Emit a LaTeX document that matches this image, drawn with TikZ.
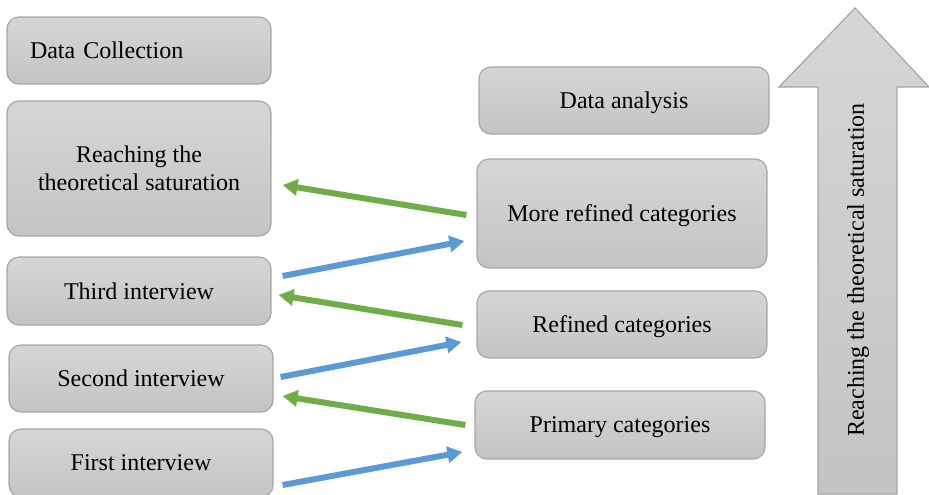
\documentclass[tikz,border=0pt]{standalone}
\usepackage{fontspec}
\setmainfont{Liberation Serif}
\usetikzlibrary{arrows.meta}
\definecolor{boxtop}{RGB}{214,214,214}
\definecolor{boxbot}{RGB}{196,196,196}
\definecolor{boxline}{RGB}{166,166,166}
\definecolor{backarrow}{RGB}{112,173,71}
\definecolor{fwdarrow}{RGB}{91,155,213}
\tikzset{
  stage/.style={draw=boxline,line width=0.6pt,rounded corners=6pt,top color=boxtop,bottom color=boxbot,
    minimum width=132pt,align=center,font=\fontsize{12}{14}\selectfont,inner sep=0pt,text depth=0pt},
  back/.style={draw=backarrow,line width=3pt,-{Triangle[length=7.5pt,width=8pt]}},
  fwd/.style={draw=fwdarrow,line width=3pt,-{Triangle[length=7.5pt,width=8pt]}}
}
\begin{document}
\begin{tikzpicture}[x=0.5pt,y=-0.5pt]
\useasboundingbox(0,0) rectangle (929,494);

% data collection side
\node[stage,minimum height=33.5pt,text width=109pt,align=left,inner xsep=11.5pt] (collect) at (139,50.5) {Data Collection};
\node[stage,minimum height=67.5pt] (satur) at (139,168.5) {Reaching the\\theoretical saturation};
\node[stage,minimum height=34pt] (third) at (139,291) {Third interview};
\node[stage,minimum height=33.5pt] (second) at (141,378.5) {Second interview};
\node[stage,minimum height=34pt] (first) at (141,463) {First interview};

% data analysis side
\node[stage,minimum width=145pt,minimum height=33.5pt] (analysis) at (624,100.5) {Data analysis};
\node[stage,minimum width=145pt,minimum height=54.5pt] (morecat) at (622,213.5) {More refined categories};
\node[stage,minimum width=145pt,minimum height=33.5pt] (refcat) at (622,324.5) {Refined categories};
\node[stage,minimum width=145pt,minimum height=34pt] (primcat) at (620,425) {Primary categories};

% big arrow
\draw[draw=boxline,line width=0.6pt,top color=boxtop,bottom color=boxbot]
  (818,494)--(818,87)--(779,87)--(855,8)--(929,87)--(897,87)--(897,494)--cycle;
\node[rotate=90,font=\fontsize{12}{14}\selectfont] (satlabel) at (858,270) {Reaching the theoretical saturation};

% back and forth
\draw[back]([shift={(-10,1.5)}]morecat.west)--([shift={(11,16.5)}]satur.east);
\draw[fwd]([shift={(11,-15)}]third.east)--([shift={(-12,27.5)}]morecat.west);
\draw[back]([shift={(-14,0.5)}]refcat.west)--([shift={(7,4)}]third.east);
\draw[fwd]([shift={(7,-1.5)}]second.east)--([shift={(-15,17.5)}]refcat.west);
\draw[back]([shift={(-9,0)}]primcat.west)--([shift={(9,17.5)}]second.east);
\draw[fwd]([shift={(9,22)}]first.east)--([shift={(-12,27)}]primcat.west);
\end{tikzpicture}
\end{document}
